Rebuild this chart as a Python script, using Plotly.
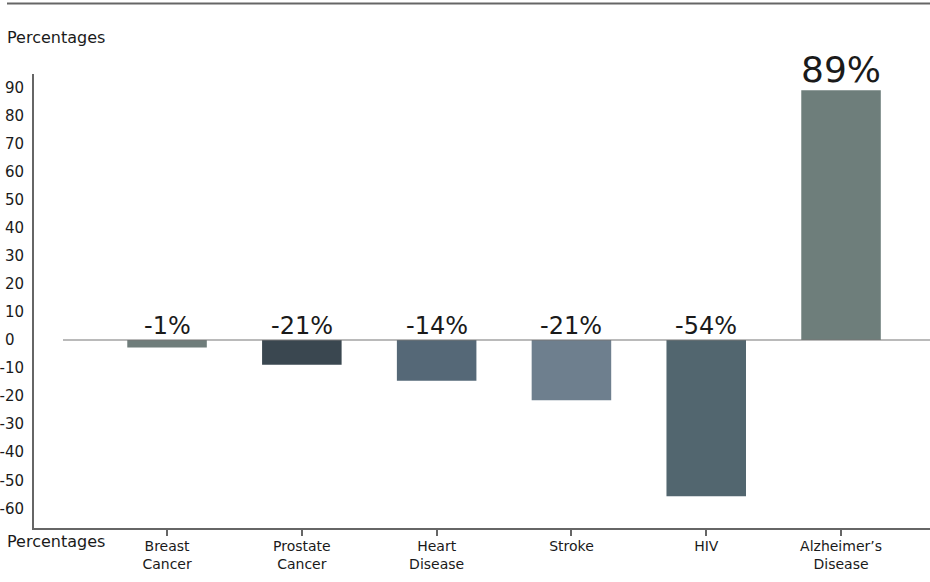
import plotly.graph_objects as go

categories = ["Breast<br>Cancer", "Prostate<br>Cancer", "Heart<br>Disease", "Stroke", "HIV", "Alzheimer’s<br>Disease"]
bar_values = [-2.7, -8.8, -14.5, -21.5, -55.7, 89]
label_texts = ["-1%", "-21%", "-14%", "-21%", "-54%", "89%"]
bar_colors = ["#6f7d7b", "#3a4750", "#556877", "#6e7f8e", "#52666f", "#6e7e7b"]
y_ticks = [90, 80, 70, 60, 50, 40, 30, 20, 10, 0, -10, -20, -30, -40, -50, -60]

FONT = "Century Gothic, URW Gothic, DejaVu Sans, sans-serif"
xs = list(range(len(categories)))

fig = go.Figure()
fig.add_trace(go.Bar(x=xs, y=bar_values, marker_color=bar_colors, width=0.59,
                     marker_line_width=0, hoverinfo="skip"))

annotations = []
for i, (v, t) in enumerate(zip(bar_values, label_texts)):
    big = v > 50
    annotations.append(dict(x=i, y=max(v, 0), xref="x", yref="y", text=t, showarrow=False,
                            yanchor="bottom", xanchor="center",
                            font=dict(family=FONT, size=36 if big else 24, color="#1a1a1a"),
                            yshift=-2))
annotations.append(dict(x=-34/896 + 5/896, y=1, xref="paper", yref="paper", yshift=37,
                        text="Percentages", showarrow=False, xanchor="left", yanchor="middle",
                        font=dict(family=FONT, size=16, color="#1a1a1a")))
annotations.append(dict(x=-34/896 + 5/896, y=0, xref="paper", yref="paper", yshift=-13,
                        text="Percentages", showarrow=False, xanchor="left", yanchor="middle",
                        font=dict(family=FONT, size=16, color="#1a1a1a")))

shapes = [
    dict(type="line", xref="paper", yref="y", x0=29/896, x1=1, y0=0, y1=0,
         line=dict(color="#777777", width=1.2)),
    dict(type="line", xref="paper", yref="paper", x0=-27/896, x1=1,
         y0=1 + 70.5/454, y1=1 + 70.5/454,
         line=dict(color="#666666", width=2)),
]

fig.update_layout(
    width=930, height=582,
    margin=dict(l=34, r=0, t=74, b=54),
    paper_bgcolor="white", plot_bgcolor="white",
    showlegend=False,
    font=dict(family=FONT, color="#1a1a1a"),
    annotations=annotations,
    shapes=shapes,
    bargap=0.4,
)
fig.update_xaxes(range=[-0.987, 5.66], tickvals=xs, ticktext=categories,
                 showline=True, linecolor="#666666", linewidth=2,
                 ticks="outside", ticklen=6, tickcolor="#666666", tickwidth=1.5,
                 ticklabelstandoff=-2,
                 tickfont=dict(family=FONT, size=14, color="#1a1a1a"),
                 showgrid=False, zeroline=False, fixedrange=True)
fig.update_yaxes(range=[-67, 94.8], tickvals=y_ticks,
                 ticktext=[("0\u00a0\u00a0" if v == 0 else str(v)) for v in y_ticks],
                 showline=True, linecolor="#666666", linewidth=2,
                 ticks="", ticklabelstandoff=5,
                 tickfont=dict(family=FONT, size=15, color="#1a1a1a"),
                 showgrid=False, zeroline=False, fixedrange=True)

fig.write_html("out.html")
